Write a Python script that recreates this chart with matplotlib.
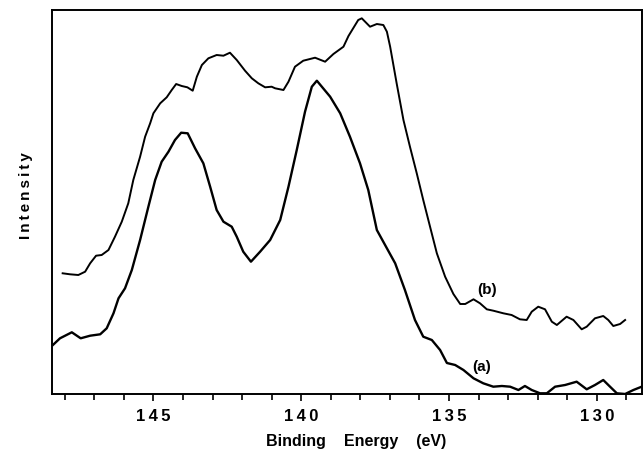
import matplotlib
matplotlib.use("Agg")
import matplotlib.pyplot as plt
from matplotlib.ticker import MultipleLocator, FuncFormatter

plt.rcParams['font.family'] = ['Liberation Sans', 'DejaVu Sans']

# spectrum (a), binding energy (eV) vs intensity (arb.)
energy_a = [148.40, 148.16, 147.76, 147.46, 147.14, 146.80, 146.58, 146.35, 146.18, 145.96,
            145.73, 145.45, 145.17, 144.94, 144.72, 144.49, 144.27, 144.06, 143.84, 143.59,
            143.31, 143.08, 142.86, 142.63, 142.35, 142.18, 141.96, 141.70, 141.39, 141.05,
            140.71, 140.43, 140.15, 139.87, 139.64, 139.47, 139.02, 138.68, 138.35, 138.01,
            137.73, 137.44, 137.10, 136.82, 136.49, 136.15, 135.87, 135.58, 135.30, 135.07,
            134.79, 134.51, 134.17, 133.84, 133.50, 133.21, 132.93, 132.65, 132.43, 132.20,
            131.92, 131.69, 131.41, 131.07, 130.68, 130.34, 130.06, 129.78, 129.55, 129.32,
            129.04, 128.76, 128.48]
intensity_a = [49, 55.7, 61.7, 55.7, 58.3, 59.7, 65.7, 80.7, 95.7, 105.7,
               124, 154, 187.3, 214, 232.3, 242.3, 254, 261.3, 260.7, 245.7,
               230.7, 207.3, 184, 172.3, 167.3, 157.3, 142.3, 132.3, 142.3, 154,
               174, 207.3, 244, 282.3, 307.3, 313.3, 297.3, 280.7, 257.3, 230.7,
               204, 164, 145.7, 130.7, 104, 74, 57.3, 54, 44, 31,
               29, 24, 15.7, 10.7, 7.3, 8, 7.3, 4, 8, 4,
               0.7, 0.7, 7.3, 9, 12.3, 4.7, 9, 14, 7.3, 0.7,
               0, 4, 7.3]

# spectrum (b)
energy_b = [148.07, 147.82, 147.54, 147.31, 147.14, 146.94, 146.75, 146.52, 146.30, 146.07,
            145.85, 145.68, 145.45, 145.28, 145.11, 145.00, 144.77, 144.55, 144.38, 144.23,
            144.04, 143.85, 143.67, 143.53, 143.36, 143.14, 142.86, 142.63, 142.41, 142.18,
            141.90, 141.67, 141.45, 141.22, 141.00, 140.88, 140.60, 140.43, 140.21, 139.93,
            139.53, 139.19, 138.91, 138.57, 138.40, 138.07, 137.95, 137.67, 137.44, 137.22,
            137.10, 136.99, 136.77, 136.54, 136.32, 136.09, 135.87, 135.64, 135.41, 135.13,
            134.85, 134.62, 134.45, 134.17, 133.95, 133.72, 133.50, 133.16, 132.88, 132.60,
            132.37, 132.20, 131.98, 131.75, 131.52, 131.35, 131.02, 130.79, 130.51, 130.34,
            130.06, 129.78, 129.61, 129.44, 129.21, 129.04]
intensity_b = [120.7, 119.7, 119, 122.3, 130.7, 138.3, 139, 144, 157.3, 172.3,
               190.7, 214, 237.3, 257.3, 270.7, 280.7, 290.7, 296.7, 304, 310,
               308, 306.7, 303.3, 317.3, 329, 335.7, 339, 338.3, 341.3, 334,
               323.3, 315.7, 310.7, 306.7, 307.3, 305.7, 304, 312.3, 327.3, 333.3,
               336.3, 332.3, 340, 347.3, 358, 374, 375.7, 367.3, 370, 369,
               362.3, 347.3, 310.7, 274, 247.3, 220.7, 194, 167.3, 140.7, 117.3,
               100, 90, 90, 94.7, 90.7, 84.7, 83.3, 80.7, 79, 74.7,
               74, 82.3, 87.3, 84.7, 72.3, 69, 77.3, 74, 64.7, 67.3,
               75.7, 78, 74, 68, 70, 74]

fig = plt.figure(figsize=(6.43, 4.51), dpi=100)
ax = fig.add_axes([0.0809, 0.1264, 0.9175, 0.8514])

ax.plot(energy_a, intensity_a, color='black', lw=1.7, solid_joinstyle='round')
ax.plot(energy_b, intensity_b, color='black', lw=1.4, solid_joinstyle='round')

ax.text(133.88, 27, '(a)', fontsize=11, fontweight='bold', ha='center', va='center')
ax.text(133.70, 104, '(b)', fontsize=11, fontweight='bold', ha='center', va='center')

ax.set_xlim(148.43, 128.47)
ax.set_ylim(0, 384)

ax.xaxis.set_major_locator(MultipleLocator(5))
ax.xaxis.set_minor_locator(MultipleLocator(1))
ax.xaxis.set_major_formatter(FuncFormatter(lambda v, p: '\u2009'.join(str(int(round(v))))))
ax.tick_params(axis='x', which='major', direction='out', length=5, width=1.2, pad=6,
               labelsize=12)
ax.tick_params(axis='x', which='minor', direction='out', length=4, width=1.2)
for lab in ax.get_xticklabels():
    lab.set_fontweight('bold')
ax.set_yticks([])

for s in ax.spines.values():
    s.set_linewidth(1.4)

ax.set_xlabel('Binding    Energy    (eV)', fontsize=11.5, fontweight='bold')
ax.xaxis.set_label_coords(0.515, -0.105)
ax.set_ylabel('\u2009'.join('Intensity'), fontsize=11, fontweight='bold')
ax.yaxis.set_label_coords(-0.032, 0.516)

fig.savefig('out.png', dpi=100)
